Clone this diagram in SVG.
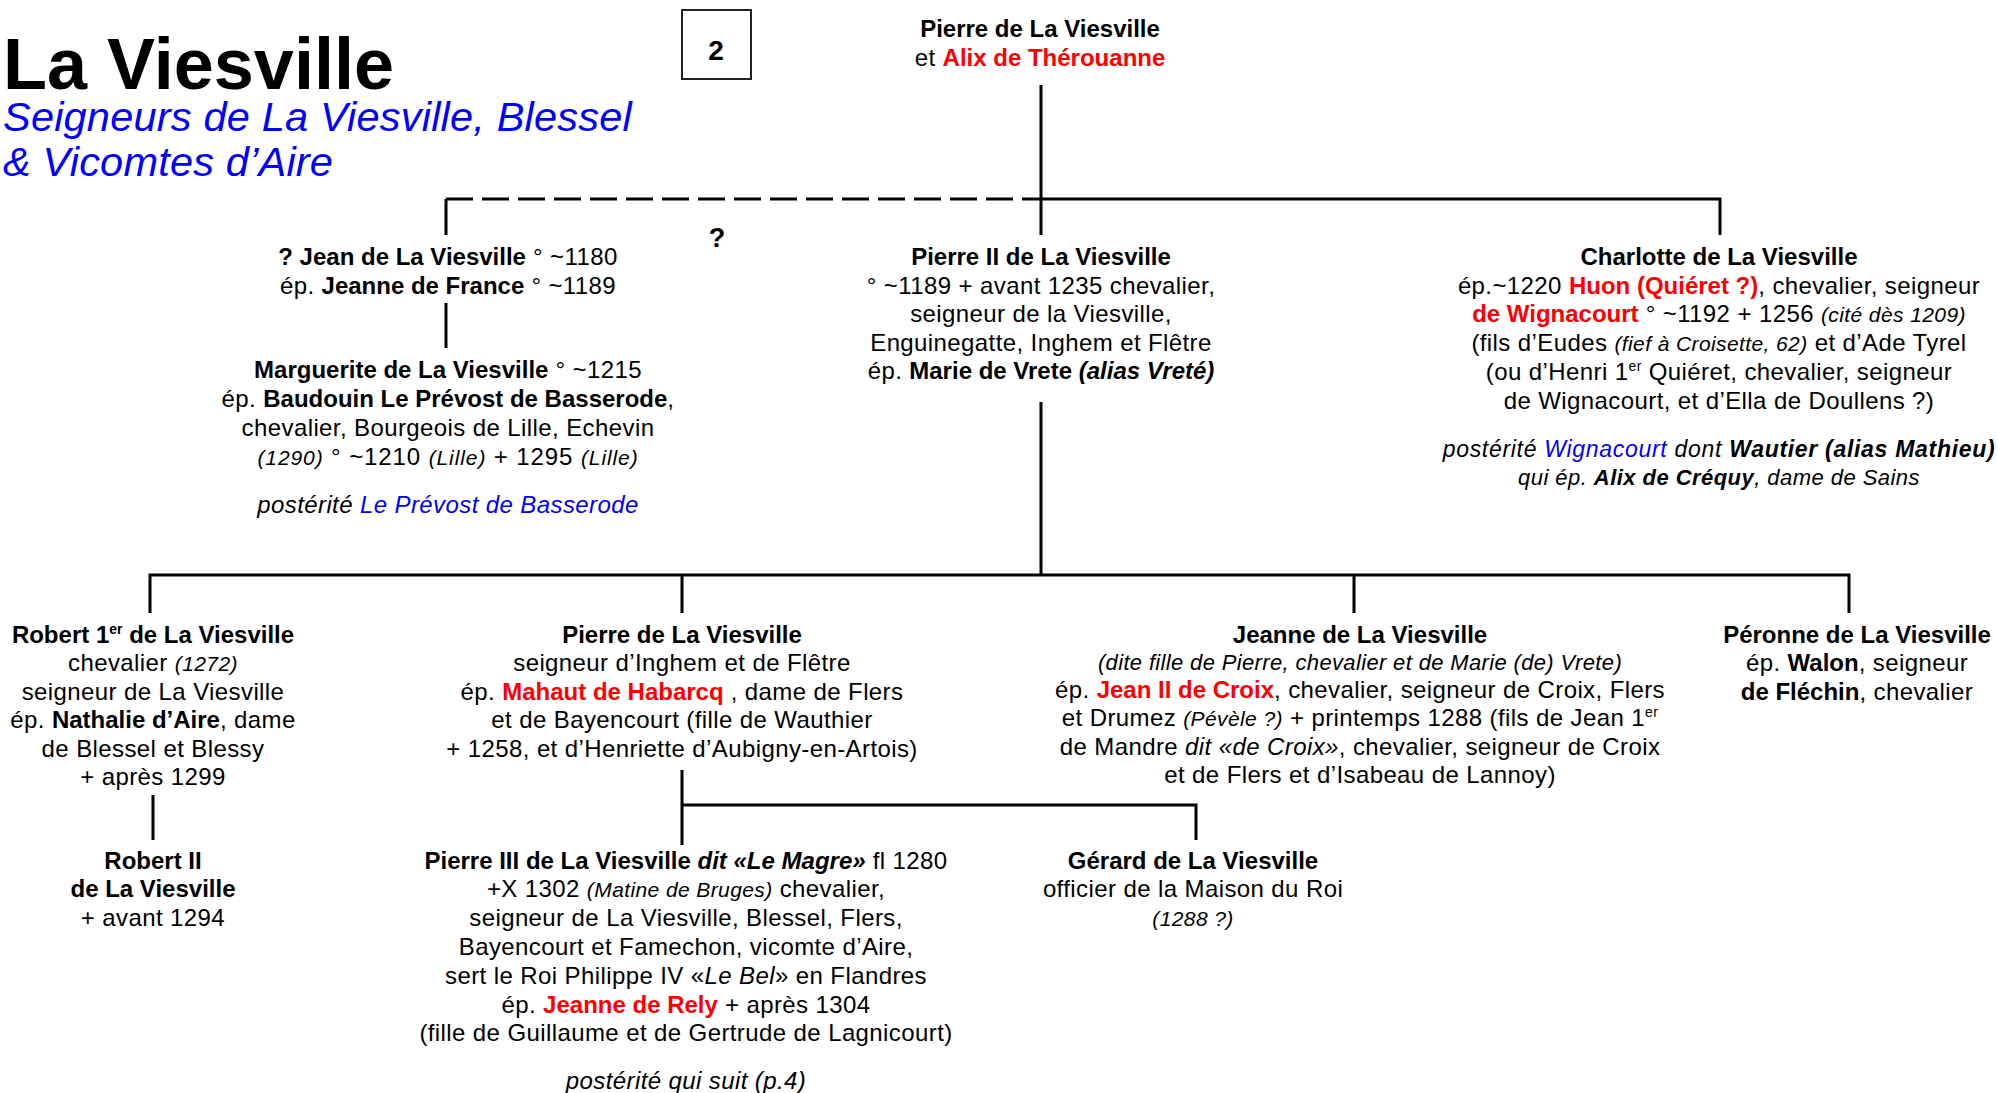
<svg xmlns="http://www.w3.org/2000/svg" width="1998" height="1093" viewBox="0 0 1998 1093">
<style>
text{font-family:"Liberation Sans",Arial,sans-serif;font-size:24px;fill:#000;letter-spacing:0.4px}
.m{text-anchor:middle}
.b{font-weight:bold;letter-spacing:0}
.i{font-style:italic}
.s{font-size:21px}
.r{fill:#FF0000;font-weight:bold;letter-spacing:0}
.bl{fill:#0000FF}
.sup{font-size:14px}
.ln{fill:none;stroke:#000;stroke-width:3}
.dash{stroke-dasharray:27 9}
</style>
<rect width="1998" height="1093" fill="#fff"/>
<g id="header">
<text x="3" y="89" class="b" style="font-size:72px">La Viesville</text>
<text x="3" y="131" class="i bl" style="font-size:41.5px;letter-spacing:0.2px">Seigneurs de La Viesville, Blessel</text>
<text x="3" y="176" class="i bl" style="font-size:41.5px;letter-spacing:0.2px">&amp; Vicomtes d’Aire</text>
<rect x="682" y="10" width="69" height="69" fill="#fff" stroke="#222" stroke-width="2"/>
<text x="716" y="60" class="m b" style="font-size:28px">2</text>
</g>
<g id="connectors">
<path class="ln" d="M1041,85 V235 M1041,199 H1720 V235 M446,235 V199"/>
<path class="ln dash" d="M446,199 H1041"/>
<path class="ln" d="M446,303 V348"/>
<path class="ln" d="M1041,402 V575 M150,613 V575 H1849 V613 M682,575 V613 M1354,575 V613"/>
<path class="ln" d="M153,795 V840"/>
<path class="ln" d="M682,770 V845 M682,805 H1196 V840"/>
<text x="717" y="247" class="m b" style="font-size:27px">?</text>
</g>
<g id="n-pierre-alix">
<text x="1040" y="37" class="m b">Pierre de La Viesville</text>
<text x="1040" y="66" class="m">et <tspan class="r">Alix de Thérouanne</tspan></text>
</g>
<g id="n-jean">
<text x="448" y="265" class="m"><tspan class="b">? Jean de La Viesville</tspan> ° ~1180</text>
<text x="448" y="294" class="m">ép. <tspan class="b">Jeanne de France</tspan> ° ~1189</text>
</g>
<g id="n-marguerite">
<text x="448" y="378" class="m"><tspan class="b">Marguerite de La Viesville</tspan> ° ~1215</text>
<text x="448" y="407" class="m">ép. <tspan class="b">Baudouin Le Prévost de Basserode</tspan>,</text>
<text x="448" y="436" class="m">chevalier, Bourgeois de Lille, Echevin</text>
<text x="448" y="465" class="m" style="letter-spacing:0.9px"><tspan class="i s">(1290)</tspan>  ° ~1210 <tspan class="i s">(Lille)</tspan> + 1295 <tspan class="i s">(Lille)</tspan></text>
<text x="448" y="513" class="m i">postérité <tspan class="bl">Le Prévost de Basserode</tspan></text>
</g>
<g id="n-pierre2">
<text x="1041" y="265" class="m b">Pierre II de La Viesville</text>
<text x="1041" y="294" class="m">° ~1189 + avant 1235 chevalier,</text>
<text x="1041" y="322" class="m">seigneur de la Viesville,</text>
<text x="1041" y="351" class="m">Enguinegatte, Inghem et Flêtre</text>
<text x="1041" y="379" class="m">ép. <tspan class="b">Marie de Vrete <tspan class="i">(alias Vreté)</tspan></tspan></text>
</g>
<g id="n-charlotte">
<text x="1719" y="265" class="m b">Charlotte de La Viesville</text>
<text x="1719" y="294" class="m">ép.~1220 <tspan class="r">Huon (Quiéret ?)</tspan>, chevalier, seigneur</text>
<text x="1719" y="322" class="m"><tspan class="r">de Wignacourt</tspan> ° ~1192 + 1256 <tspan class="i s">(cité dès 1209)</tspan></text>
<text x="1719" y="351" class="m">(fils d’Eudes <tspan class="i s">(fief à Croisette, 62)</tspan> et d’Ade Tyrel</text>
<text x="1719" y="380" class="m">(ou d’Henri 1<tspan class="sup" dy="-9">er</tspan><tspan dy="9"> Quiéret, chevalier, seigneur</tspan></text>
<text x="1719" y="409" class="m">de Wignacourt, et d’Ella de Doullens ?)</text>
<text x="1719" y="457" class="m i" style="font-size:23px;letter-spacing:0.7px">postérité <tspan class="bl">Wignacourt</tspan> dont <tspan style="font-weight:bold">Wautier (alias Mathieu)</tspan></text>
<text x="1719" y="485" class="m i" style="font-size:22px;letter-spacing:0.45px">qui ép. <tspan style="font-weight:bold">Alix de Créquy</tspan>, dame de Sains</text>
</g>
<g id="n-robert1">
<text x="153" y="643" class="m b">Robert 1<tspan class="sup" dy="-9">er</tspan><tspan dy="9"> de La Viesville</tspan></text>
<text x="153" y="671" class="m">chevalier <tspan class="i s">(1272)</tspan></text>
<text x="153" y="700" class="m">seigneur de La Viesville</text>
<text x="153" y="728" class="m">ép. <tspan class="b">Nathalie d’Aire</tspan>, dame</text>
<text x="153" y="757" class="m">de Blessel et Blessy</text>
<text x="153" y="785" class="m">+ après 1299</text>
</g>
<g id="n-robert2">
<text x="153" y="869" class="m b">Robert II</text>
<text x="153" y="897" class="m b">de La Viesville</text>
<text x="153" y="926" class="m">+ avant 1294</text>
</g>
<g id="n-pierre-habarcq">
<text x="682" y="643" class="m b">Pierre de La Viesville</text>
<text x="682" y="671" class="m">seigneur d’Inghem et de Flêtre</text>
<text x="682" y="700" class="m">ép. <tspan class="r">Mahaut de Habarcq</tspan> , dame de Flers</text>
<text x="682" y="728" class="m">et de Bayencourt (fille de Wauthier</text>
<text x="682" y="757" class="m">+ 1258, et d’Henriette d’Aubigny-en-Artois)</text>
</g>
<g id="n-jeanne">
<text x="1360" y="643" class="m b">Jeanne de La Viesville</text>
<text x="1360" y="670" class="m i" style="font-size:22px;letter-spacing:0.35px">(dite fille de Pierre, chevalier et de Marie (de) Vrete)</text>
<text x="1360" y="698" class="m">ép. <tspan class="r">Jean II de Croix</tspan>, chevalier, seigneur de Croix, Flers</text>
<text x="1360" y="726" class="m">et Drumez <tspan class="i s">(Pévèle ?)</tspan> + printemps 1288 (fils de Jean 1<tspan class="sup" dy="-9">er</tspan></text>
<text x="1360" y="755" class="m">de Mandre <tspan class="i">dit «de Croix»</tspan>, chevalier, seigneur de Croix</text>
<text x="1360" y="783" class="m">et de Flers et d’Isabeau de Lannoy)</text>
</g>
<g id="n-peronne">
<text x="1857" y="643" class="m b">Péronne de La Viesville</text>
<text x="1857" y="671" class="m">ép. <tspan class="b">Walon</tspan>, seigneur</text>
<text x="1857" y="700" class="m"><tspan class="b">de Fléchin</tspan>, chevalier</text>
</g>
<g id="n-pierre3">
<text x="686" y="869" class="m"><tspan class="b">Pierre III de La Viesville <tspan class="i">dit «Le Magre»</tspan></tspan> fl 1280</text>
<text x="686" y="897" class="m">+X 1302 <tspan class="i s">(Matine de Bruges)</tspan> chevalier,</text>
<text x="686" y="926" class="m">seigneur de La Viesville, Blessel, Flers,</text>
<text x="686" y="955" class="m">Bayencourt et Famechon, vicomte d’Aire,</text>
<text x="686" y="984" class="m">sert le Roi Philippe IV «<tspan class="i">Le Bel</tspan>» en Flandres</text>
<text x="686" y="1013" class="m">ép. <tspan class="r">Jeanne de Rely</tspan> + après 1304</text>
<text x="686" y="1041" class="m">(fille de Guillaume et de Gertrude de Lagnicourt)</text>
<text x="686" y="1089" class="m i">postérité qui suit (p.4)</text>
</g>
<g id="n-gerard">
<text x="1193" y="869" class="m b">Gérard de La Viesville</text>
<text x="1193" y="897" class="m">officier de la Maison du Roi</text>
<text x="1193" y="926" class="m i s">(1288 ?)</text>
</g>
</svg>
